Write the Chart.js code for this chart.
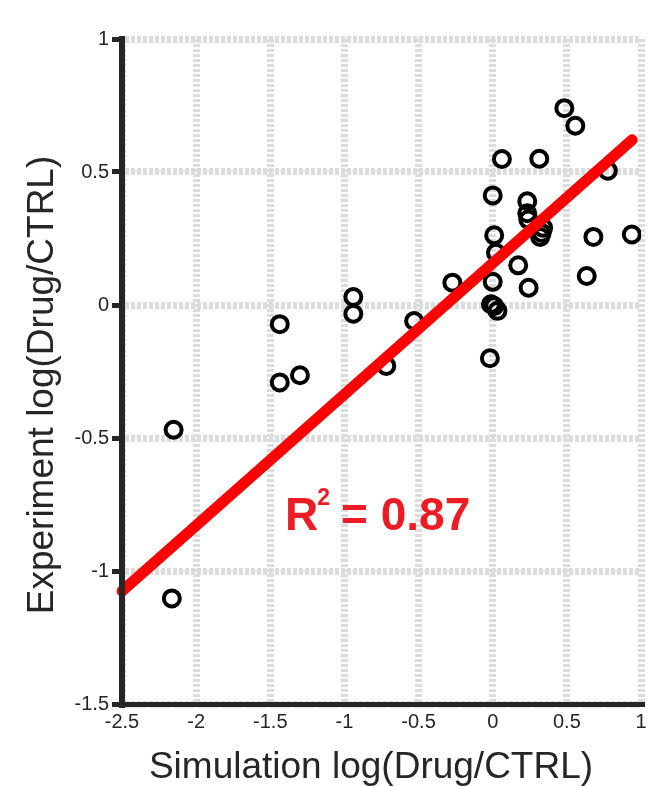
<!DOCTYPE html>
<html>
<head>
<meta charset="utf-8">
<title>Simulation vs Experiment</title>
<script src="https://cdn.jsdelivr.net/npm/chart.js"></script>
<style>
  html, body { margin: 0; padding: 0; background: #fff; }
  #wrap { width: 659px; height: 786px; }
</style>
</head>
<body>
<div id="wrap"><canvas id="fitChart" width="659" height="786"></canvas></div>
<script>
// ===== data =====
const simX = [
  0.483, 0.557, 0.062, 0.314, 0.776, 0.0, 0.233, 0.233, 0.24, 0.34,
  0.33, 0.32, 0.01, 0.679, 0.938, 0.022, 0.172, -0.272, 0.0, 0.242,
  0.634, -0.012, 0.01, 0.032, -0.53, -0.019, -1.436, -1.436, -1.3, -0.94,
  -0.94, -0.718, -2.152, -2.164
];
const expY = [
  0.74, 0.674, 0.549, 0.55, 0.505, 0.412, 0.39, 0.345, 0.321, 0.29,
  0.271, 0.256, 0.262, 0.256, 0.265, 0.196, 0.149, 0.084, 0.087, 0.065,
  0.109, 0.003, -0.004, -0.022, -0.06, -0.2, -0.072, -0.291, -0.264, 0.03,
  -0.033, -0.229, -0.469, -1.103
];

// regression line end points
const fitX = [-2.5, 0.94];
const fitY = [-1.076, 0.621];

const xTicks = [-2.5, -2, -1.5, -1, -0.5, 0, 0.5, 1];
const yTicks = [-1.5, -1, -0.5, 0, 0.5, 1];

const xTitle = "Simulation log(Drug/CTRL)";
const yTitle = "Experiment log(Drug/CTRL)";
const r2Value = "0.87";
const r2Pos = [-1.4, -0.845]; // where the label sits, in data units

document.addEventListener("DOMContentLoaded", function () {
  const FONT = "'Liberation Sans', Arial, sans-serif";
  const INK = "#262626";
  Chart.defaults.font.family = FONT;

  function toPoints(xs, ys) {
    return xs.map((x, i) => ({ x: x, y: ys[i] }));
  }

  // axis titles + R^2 label, drawn by hand so they land where the figure has them
  const textPlugin = {
    id: "figureText",
    afterDatasetsDraw(chart) {
      const ctx = chart.ctx;
      const xs = chart.scales.x;
      const ys = chart.scales.y;

      ctx.save();
      ctx.fillStyle = INK;
      ctx.font = "37px " + FONT;
      ctx.textAlign = "center";
      ctx.textBaseline = "alphabetic";
      ctx.fillText(xTitle, 371, 778);

      ctx.translate(53, 385);
      ctx.rotate(-Math.PI / 2);
      ctx.fillText(yTitle, 0, 0);
      ctx.restore();

      // R^2 = ...
      const px = xs.getPixelForValue(r2Pos[0]);
      const py = ys.getPixelForValue(r2Pos[1]);
      ctx.save();
      ctx.fillStyle = "#ed1c24";
      ctx.textAlign = "left";
      ctx.textBaseline = "alphabetic";
      ctx.font = "bold 46px " + FONT;
      ctx.fillText("R", px, py);
      const rw = ctx.measureText("R").width;
      ctx.font = "bold 23px " + FONT;
      ctx.fillText("2", px + rw - 1, py - 25);
      ctx.font = "bold 46px " + FONT;
      ctx.fillText("= " + r2Value, px + 56, py);
      ctx.restore();
    },
  };

  const ctx = document.getElementById("fitChart").getContext("2d");

  new Chart(ctx, {
    type: "scatter",
    data: {
      datasets: [
        {
          type: "line",
          label: "fit",
          data: toPoints(fitX, fitY),
          borderColor: "#ff0000",
          borderWidth: 11,
          borderCapStyle: "round",
          pointRadius: 0,
          fill: false,
          clip: false,
          order: 0,
        },
        {
          label: "genes",
          data: toPoints(simX, expY),
          pointStyle: "circle",
          pointRadius: 8,
          pointBorderWidth: 4,
          borderColor: "#000",
          backgroundColor: "rgba(0,0,0,0)",
          order: 1,
        },
      ],
    },
    options: {
      responsive: false,
      animation: false,
      events: [],
      layout: { padding: { top: 39, right: 18, left: 0, bottom: 0 } },
      plugins: {
        legend: { display: false },
        tooltip: { enabled: false },
      },
      scales: {
        x: {
          type: "linear",
          min: -2.5,
          max: 1,
          afterBuildTicks: (s) => { s.ticks = xTicks.map((v) => ({ value: v })); },
          afterFit: (s) => { s.height = 82; },
          grid: {
            color: "#dcdcdc",
            lineWidth: 7,
            drawTicks: false,
          },
          border: { color: INK, width: 5, dash: [3, 2], z: 1 },
          ticks: {
            color: INK,
            font: { size: 20 },
            padding: 6,
            maxRotation: 0,
            callback: (v) => String(v),
          },
        },
        y: {
          type: "linear",
          min: -1.5,
          max: 1,
          afterBuildTicks: (s) => { s.ticks = yTicks.map((v) => ({ value: v })); },
          afterFit: (s) => { s.width = 122; },
          grid: {
            color: "#dcdcdc",
            lineWidth: 7,
            drawTicks: true,
            tickLength: 10,
            tickWidth: 5,
            tickColor: INK,
          },
          border: { color: INK, width: 6, dash: [4, 2], z: 1 },
          ticks: {
            color: INK,
            font: { size: 20 },
            padding: 3,
            callback: (v) => String(v),
          },
        },
      },
    },
    plugins: [textPlugin],
  });
});
</script>
</body>
</html>
